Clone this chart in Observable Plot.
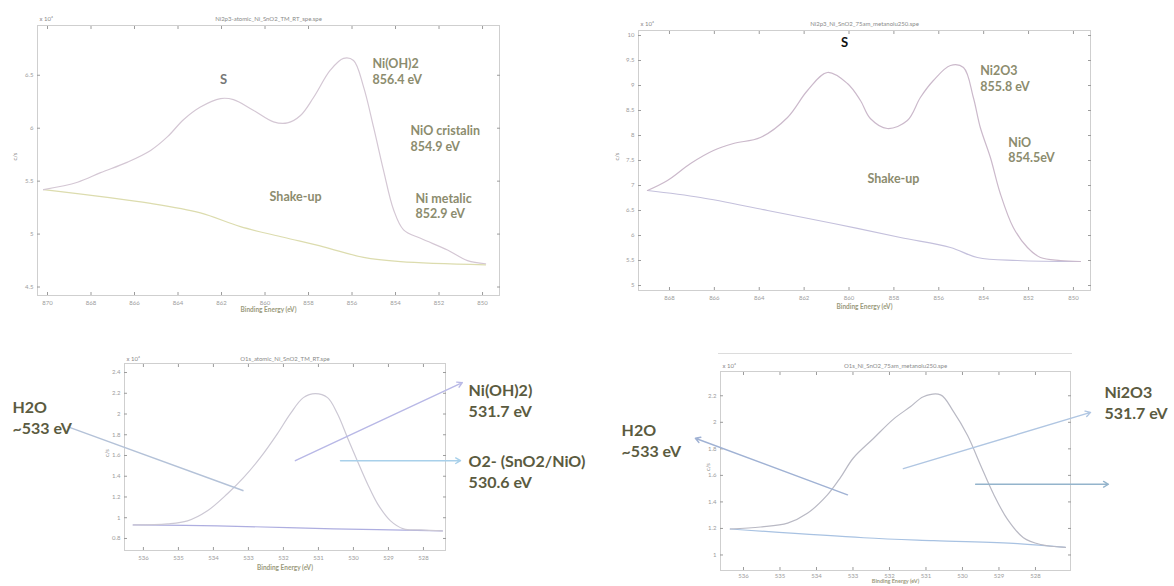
<!DOCTYPE html>
<html><head><meta charset="utf-8">
<script src="https://cdn.jsdelivr.net/npm/d3@7"></script>
<script src="https://cdn.jsdelivr.net/npm/@observablehq/plot@0.6"></script>
<style>
html,body{margin:0;padding:0;background:#fff;}
#wrap{position:relative;width:1174px;height:586px;overflow:hidden;background:#fff;}
.panel{position:absolute;}
.winline{position:absolute;left:718px;top:353px;width:354px;height:0;border-top:1px solid #dcdcdc;}
</style></head><body><div id="wrap"><div class="winline"></div></div>
<script>
// ---------- Panel 1: Ni 2p (RT) ----------
const p1Title = "Ni2p3-atomic_Ni_SnO2_TM_RT_spe.spe";
const p1XTicks = [870, 868, 866, 864, 862, 860, 858, 856, 854, 852, 850];
const p1YTicks = [4.5, 5, 5.5, 6, 6.5];
const p1Energy = [870.18, 868.62, 867.56, 866.32, 865.26, 864.48, 863.75, 862.97, 862.05, 861.45, 860.54, 859.61, 858.97, 858.37, 857.77, 856.99, 856.39, 855.93, 855.47, 855.01, 854.55, 854.09, 853.63, 852.85, 851.61, 850.69, 849.86];
const p1Envelope = [5.42, 5.49, 5.58, 5.68, 5.79, 5.92, 6.08, 6.20, 6.28, 6.27, 6.17, 6.06, 6.05, 6.12, 6.29, 6.55, 6.66, 6.64, 6.39, 6.01, 5.60, 5.23, 5.04, 4.96, 4.85, 4.75, 4.72];
const p1BgEnergy = [870.18, 865.26, 862.97, 861.13, 859.15, 857.31, 855.47, 853.77, 849.86];
const p1Background = [5.42, 5.29, 5.20, 5.07, 4.97, 4.88, 4.78, 4.74, 4.71];
const p1Labels = ["Ni(OH)2\n856.4 eV", "NiO cristalin\n854.9 eV", "Shake-up", "Ni metalic\n852.9 eV"];
const p1LabelX = [855.06, 853.31, 859.79, 853.08];
const p1LabelY = [6.54, 5.91, 5.36, 5.27];
const p1Mark = ["S"]; const p1MarkX = [861.91]; const p1MarkY = [6.46];

// ---------- Panel 2: Ni 2p (75 am, metanolu 250) ----------
const p2Title = "Ni2p3_Ni_SnO2_75am_metanolu250.spe";
const p2XTicks = [868, 866, 864, 862, 860, 858, 856, 854, 852, 850];
const p2YTicks = [5, 5.5, 6, 6.5, 7, 7.5, 8, 8.5, 9, 9.5, 10];
const p2Energy = [868.98, 868.09, 867.06, 866.04, 865.15, 863.95, 862.74, 861.85, 860.96, 860.07, 859.49, 859.05, 858.29, 857.40, 856.82, 856.24, 855.48, 854.90, 854.46, 854.15, 853.70, 853.26, 852.68, 852.05, 851.47, 850.58, 849.69];
const p2Envelope = [6.90, 7.10, 7.44, 7.70, 7.84, 7.96, 8.36, 8.90, 9.26, 9.04, 8.70, 8.34, 8.14, 8.30, 8.76, 9.10, 9.40, 9.36, 8.76, 8.16, 7.56, 6.84, 6.16, 5.76, 5.56, 5.50, 5.48];
const p2BgEnergy = [868.98, 866.62, 863.63, 860.69, 857.71, 855.48, 854.28, 852.50, 849.69];
const p2Background = [6.90, 6.76, 6.50, 6.24, 5.96, 5.76, 5.56, 5.50, 5.48];
const p2Labels = ["Ni2O3\n855.8 eV", "NiO\n854.5eV", "Shake-up"];
const p2LabelX = [854.15, 852.90, 859.18];
const p2LabelY = [9.15, 7.72, 7.16];
const p2Mark = ["S"]; const p2MarkX = [860.2]; const p2MarkY = [9.86];

// ---------- Panel 3: O 1s (RT) ----------
const p3Title = "O1s_atomic_Ni_SnO2_TM_RT.spe";
const p3XTicks = [536, 535, 534, 533, 532, 531, 530, 529, 528];
const p3YTicks = [0.8, 1.0, 1.2, 1.4, 1.6, 1.8, 2.0, 2.2, 2.4];
const p3Energy = [536.29, 535.31, 534.74, 534.17, 533.60, 533.14, 532.66, 532.17, 531.80, 531.43, 531.09, 530.74, 530.46, 530.17, 529.89, 529.60, 529.31, 528.94, 528.57, 528.09, 527.46];
const p3Envelope = [0.931, 0.941, 0.970, 1.067, 1.231, 1.386, 1.579, 1.811, 2.004, 2.158, 2.197, 2.158, 2.004, 1.772, 1.550, 1.328, 1.134, 0.970, 0.893, 0.883, 0.873];
const p3BgEnergy = [536.29, 533.89, 530.57, 527.46];
const p3Background = [0.931, 0.922, 0.893, 0.873];
const p3Labels = ["H2O\n~533 eV", "Ni(OH)2)\n531.7 eV", "O2- (SnO2/NiO)\n530.6 eV"];
const p3LabelX = [539.74, 526.71, 526.71];
const p3LabelY = [1.97, 2.135, 1.45];
const p3ArrowX1 = [531.66, 530.37]; const p3ArrowY1 = [1.550, 1.550];
const p3ArrowX2 = [526.89, 526.94]; const p3ArrowY2 = [2.303, 1.550];
const p3LinkX1 = [538.17]; const p3LinkY1 = [1.878];
const p3LinkX2 = [533.14]; const p3LinkY2 = [1.260];

// ---------- Panel 4: O 1s (75 am, metanolu 250) ----------
const p4Title = "O1s_Ni_SnO2_75am_metanolu250.spe";
const p4XTicks = [536, 535, 534, 533, 532, 531, 530, 529, 528];
const p4YTicks = [1.0, 1.2, 1.4, 1.6, 1.8, 2.0, 2.2];
const p4Energy = [536.36, 535.53, 534.79, 534.25, 533.70, 533.34, 532.99, 532.44, 531.89, 531.42, 531.07, 530.60, 530.25, 529.86, 529.51, 529.15, 528.77, 528.33, 527.86, 527.18];
const p4Envelope = [1.196, 1.211, 1.240, 1.314, 1.453, 1.585, 1.731, 1.878, 2.024, 2.119, 2.193, 2.207, 2.083, 1.900, 1.680, 1.460, 1.270, 1.130, 1.079, 1.057];
const p4BgEnergy = [536.36, 532.71, 530.79, 528.49, 527.18];
const p4Background = [1.196, 1.130, 1.108, 1.086, 1.057];
const p4Labels = ["H2O\n~533 eV", "Ni2O3\n531.7 eV"];
const p4LabelX = [539.34, 526.11];
const p4LabelY = [1.87, 2.156];
const p4ArrowX1 = [533.15, 531.62, 529.64]; const p4ArrowY1 = [1.453, 1.651, 1.533];
const p4ArrowX2 = [537.32, 526.49, 526.0]; const p4ArrowY2 = [1.88, 2.075, 1.533];

// ---------- helpers ----------
const zip = (xs, ys) => xs.map((x, i) => ({x, y: ys[i]}));
const labelRows = (t, xs, ys) => t.map((s, i) => ({s, x: xs[i], y: ys[i]}));
const segRows = (x1, y1, x2, y2) => x1.map((_, i) => ({x1: x1[i], y1: y1[i], x2: x2[i], y2: y2[i]}));

function frameMarks(o) {
  return [
    Plot.frame({stroke: "#cfcfcf"}),
    Plot.axisX(o.xTicks, {anchor: "bottom", tickSize: -3, tickPadding: o.xPad ?? 8, label: null, tickFormat: d => String(d)}),
    Plot.axisX(o.xTicks, {anchor: "top", tickSize: -3, label: null, tickFormat: () => ""}),
    Plot.axisY(o.yTicks, {anchor: "left", tickSize: -3, tickPadding: 7, label: null, tickFormat: d => String(d)}),
    Plot.axisY(o.yTicks, {anchor: "right", tickSize: -3, label: null, tickFormat: () => ""}),
    Plot.text([o.title], {frameAnchor: "top", dy: o.titleDy, fontSize: 6, fill: "#8a8a8a"}),
    Plot.text(["x 10⁴"], {frameAnchor: "top-left", dx: 2, dy: o.titleDy, textAnchor: "start", fontSize: 6, fill: "#8a8a8a"}),
    Plot.text(["c/s"], {frameAnchor: "left", dx: o.yLabDx, rotate: -90, fontSize: 6, fill: "#8a8a8a"}),
    Plot.text(["Binding Energy (eV)"], {frameAnchor: "bottom", dy: o.xLabDy, fontSize: o.xLabSize ?? 6.5, fill: "#9a9a7c", fontWeight: "bold"})
  ];
}

function mount(svg, left, top) {
  svg.classList.add("panel");
  svg.style.left = left + "px";
  svg.style.top = top + "px";
  document.getElementById("wrap").appendChild(svg);
}

const baseStyle = {fontFamily: "Lato, sans-serif", fontSize: "6px", color: "#9c9c9c", background: "transparent", overflow: "visible"};
const curve = "catmull-rom";

// Panel 1
mount(Plot.plot({
  width: 590, height: 320, marginLeft: 37, marginRight: 91, marginTop: 25, marginBottom: 25,
  style: baseStyle,
  x: {domain: [870.46, 849.22]}, y: {domain: [4.42, 6.97]},
  marks: [
    ...frameMarks({xTicks: p1XTicks, yTicks: p1YTicks, title: p1Title, titleDy: -9, yLabDx: -22, xLabDy: 16}),
    Plot.line(zip(p1BgEnergy, p1Background), {x: "x", y: "y", stroke: "#dcdcae", strokeWidth: 1.2, curve}),
    Plot.line(zip(p1Energy, p1Envelope), {x: "x", y: "y", stroke: "#d4c7d4", strokeWidth: 1.2, curve}),
    Plot.text(labelRows(p1Mark, p1MarkX, p1MarkY), {x: "x", y: "y", text: "s", fontSize: 13, fontWeight: "bold", fill: "#777777"}),
    Plot.text(labelRows(p1Labels, p1LabelX, p1LabelY), {x: "x", y: "y", text: "s", textAnchor: "start", lineHeight: 1.25, fontSize: 12.5, fontWeight: "bold", fill: "#8c8c6e"})
  ]
}), 0, 0);

// Panel 2
mount(Plot.plot({
  width: 584, height: 320, marginLeft: 48, marginRight: 84, marginTop: 30, marginBottom: 30,
  style: baseStyle,
  x: {domain: [869.38, 849.24]}, y: {domain: [4.9, 10.1]},
  marks: [
    ...frameMarks({xTicks: p2XTicks, yTicks: p2YTicks, title: p2Title, titleDy: -9, yLabDx: -21, xLabDy: 18}),
    Plot.line(zip(p2BgEnergy, p2Background), {x: "x", y: "y", stroke: "#c4c0dc", strokeWidth: 1.2, curve}),
    Plot.line(zip(p2Energy, p2Envelope), {x: "x", y: "y", stroke: "#cbb9cb", strokeWidth: 1.2, curve}),
    Plot.text(labelRows(p2Mark, p2MarkX, p2MarkY), {x: "x", y: "y", text: "s", fontSize: 13, fontWeight: "bold", fill: "#111111"}),
    Plot.text(labelRows(p2Labels, p2LabelX, p2LabelY), {x: "x", y: "y", text: "s", textAnchor: "start", lineHeight: 1.25, fontSize: 12.5, fontWeight: "bold", fill: "#8c8c6e"})
  ]
}), 590, 0);

// Panel 3
mount(Plot.plot({
  width: 590, height: 256, marginLeft: 124, marginRight: 145, marginTop: 33, marginBottom: 36,
  style: baseStyle,
  x: {domain: [536.54, 527.37]}, y: {domain: [0.684, 2.487]},
  marks: [
    ...frameMarks({xTicks: p3XTicks, yTicks: p3YTicks, title: p3Title, titleDy: -7, yLabDx: -17, xLabDy: 19}),
    Plot.line(zip(p3BgEnergy, p3Background), {x: "x", y: "y", stroke: "#aeaee0", strokeWidth: 1.2, curve}),
    Plot.line(zip(p3Energy, p3Envelope), {x: "x", y: "y", stroke: "#ccc8d4", strokeWidth: 1.2, curve}),
    Plot.link(segRows(p3LinkX1, p3LinkY1, p3LinkX2, p3LinkY2), {x1: "x1", y1: "y1", x2: "x2", y2: "y2", stroke: "#b4c2d8", strokeWidth: 1.4}),
    Plot.arrow(segRows(p3ArrowX1, p3ArrowY1, p3ArrowX2, p3ArrowY2), {x1: "x1", y1: "y1", x2: "x2", y2: "y2", stroke: (d, i) => i === 0 ? "#b8b8e6" : "#a8d0ea", strokeWidth: 1.4, headLength: 6}),
    Plot.text(labelRows(p3Labels, p3LabelX, p3LabelY), {x: "x", y: "y", text: "s", textAnchor: "start", lineHeight: 1.3, fontSize: 16, fontWeight: "bold", fill: "#5b5b3f"})
  ]
}), 0, 330);

// Panel 4
mount(Plot.plot({
  width: 584, height: 256, marginLeft: 130, marginRight: 104, marginTop: 41, marginBottom: 16,
  style: baseStyle,
  x: {domain: [536.63, 527.04]}, y: {domain: [0.883, 2.383]},
  marks: [
    ...frameMarks({xTicks: p4XTicks, yTicks: p4YTicks, title: p4Title, titleDy: -8, yLabDx: -12, xLabDy: 12, xPad: 6, xLabSize: 5.5}),
    Plot.line(zip(p4BgEnergy, p4Background), {x: "x", y: "y", stroke: "#a8c2e2", strokeWidth: 1.2, curve}),
    Plot.line(zip(p4Energy, p4Envelope), {x: "x", y: "y", stroke: "#b9b9c4", strokeWidth: 1.2, curve}),
    Plot.arrow(segRows(p4ArrowX1, p4ArrowY1, p4ArrowX2, p4ArrowY2), {x1: "x1", y1: "y1", x2: "x2", y2: "y2", stroke: (d, i) => ["#a0b2d4", "#b0c6e2", "#94b4cc"][i], strokeWidth: 1.4, headLength: 6}),
    Plot.text(labelRows(p4Labels, p4LabelX, p4LabelY), {x: "x", y: "y", text: "s", textAnchor: "start", lineHeight: 1.3, fontSize: 16, fontWeight: "bold", fill: "#5b5b3f"})
  ]
}), 590, 330);
</script>
</body></html>
